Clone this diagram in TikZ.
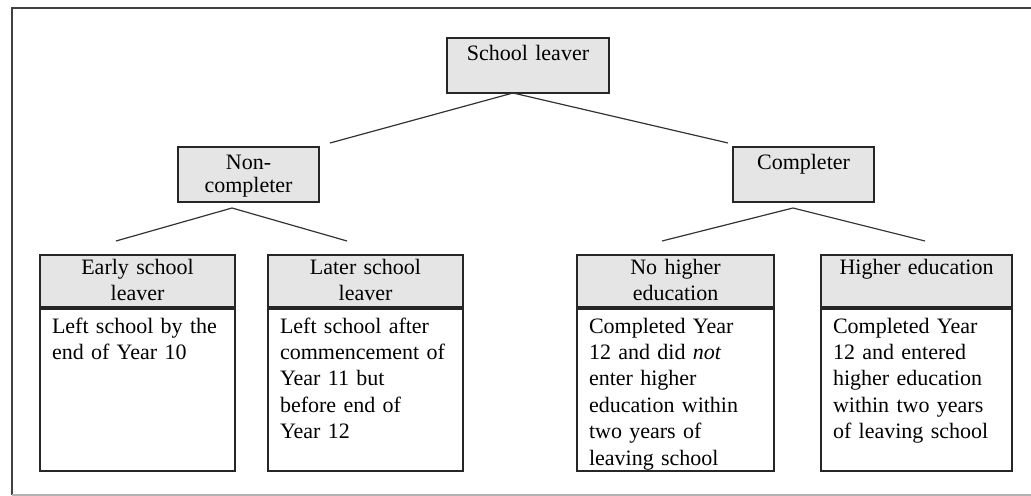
\documentclass[tikz,border=0pt]{standalone}
\usepackage{fontspec}
\setmainfont{Liberation Serif}
\begin{document}
\begin{tikzpicture}[x=0.5pt, y=-0.5pt,
  boxline/.style={draw=black!85, line width=1pt},
  topbox/.style={boxline, fill=black!10, anchor=north west, inner sep=0pt, align=center,
    text height=11.5pt, text depth=16pt, font=\fontsize{11}{11.5}\selectfont},
  headbox/.style={boxline, fill=black!10, anchor=north west, inner sep=0pt, align=center,
    text height=10pt, text depth=16pt, font=\fontsize{11}{13}\selectfont},
  bodybox/.style={boxline, fill=white, anchor=north, inner xsep=6pt, inner ysep=0pt, align=left,
    text height=12pt, text depth=69pt, font=\fontsize{11}{13.2}\selectfont},
  branch/.style={draw=black!80, line width=0.6pt}]
  \useasboundingbox (0,0) rectangle (1031,496);
  % outer frame
  \draw[black!75, line width=1.3pt] (1031,8) -- (12,8) -- (12,495);
  \draw[black!30, line width=0.6pt] (12,495) -- (1031,495);
  % top level
  \node[topbox, text width=81pt] (leaver) at (446,37) {School leaver};
  \node[topbox, text width=70.5pt] (noncomp) at (177,146) {Non-\\completer};
  \node[topbox, text width=70.5pt] (comp) at (732,146) {Completer};
  % branch points
  \coordinate (leaverfoot) at (513,93);
  \coordinate (noncomptip) at (330,143);
  \coordinate (comptip) at (728,143);
  \coordinate (noncompfoot) at (232,208);
  \coordinate (earlytip) at (116,241);
  \coordinate (latertip) at (347,241);
  \coordinate (compfoot) at (793,208);
  \coordinate (nohighertip) at (662,241);
  \coordinate (highertip) at (925,241);
  \draw[branch] (noncomptip) -- (leaverfoot) -- (comptip);
  \draw[branch] (earlytip) -- (noncompfoot) -- (latertip);
  \draw[branch] (nohighertip) -- (compfoot) -- (highertip);
  % non-completers
  \node[headbox, text width=97.5pt] (early) at (39,254) {Early school\\leaver};
  \node[bodybox, text width=85.5pt] (earlybody) at (early.south)
    {Left school by the\\end of Year 10};
  \node[headbox, text width=97.5pt] (later) at (267,254) {Later school\\leaver};
  \node[bodybox, text width=85.5pt] (laterbody) at (later.south)
    {Left school after\\commencement of\\Year 11 but\\before end of\\Year 12};
  % completers
  \node[headbox, text width=98.5pt] (nohigher) at (576,254) {No higher\\education};
  \node[bodybox, text width=86.5pt] (nohigherbody) at (nohigher.south)
    {Completed Year\\12 and did \textit{not}\\enter higher\\education within\\two years of\\leaving school};
  \node[headbox, text width=95.5pt] (higher) at (820,254) {Higher education};
  \node[bodybox, text width=83.5pt] (higherbody) at (higher.south)
    {Completed Year\\12 and entered\\higher education\\within two years\\of leaving school};
\end{tikzpicture}
\end{document}
